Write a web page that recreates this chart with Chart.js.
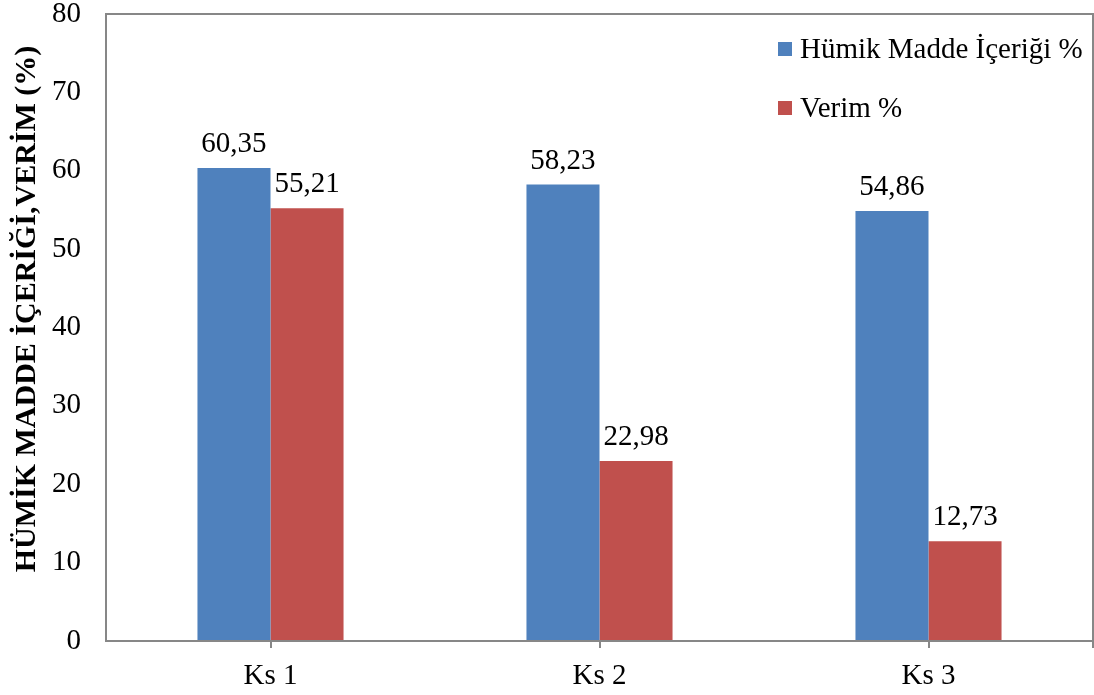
<!DOCTYPE html>
<html>
<head>
<meta charset="utf-8">
<script src="https://cdn.jsdelivr.net/npm/chart.js@4"></script>
<style>
  body { margin: 0; background: #fff; }
  #wrap { width: 1094px; height: 695px; }
</style>
</head>
<body>
<div id="wrap"><canvas id="chart" width="1094" height="695"></canvas></div>
<script>
// data
const categories = ['Ks 1', 'Ks 2', 'Ks 3'];
const humikValues = [60.35, 58.23, 54.86];
const verimValues = [55.21, 22.98, 12.73];
const seriesNames = ['Hümik Madde İçeriği %', 'Verim %'];
const yTicks = [0, 10, 20, 30, 40, 50, 60, 70, 80];
const yTitle = 'HÜMİK MADDE İÇERİĞİ,VERİM (%)';

const FONT = '"Liberation Serif", "Times New Roman", serif';
const axisGray = '#878787';

// draws the value above each bar, with a comma as decimal mark
const barLabels = {
    id: 'barLabels',
    afterDatasetsDraw(chart) {
        const ctx = chart.ctx;
        ctx.save();
        ctx.font = '29px ' + FONT;
        ctx.fillStyle = '#000';
        ctx.textAlign = 'center';
        ctx.textBaseline = 'alphabetic';
        chart.data.datasets.forEach((ds, i) => {
            chart.getDatasetMeta(i).data.forEach((bar, j) => {
                const txt = ds.data[j].toFixed(2).replace('.', ',');
                ctx.fillText(txt, bar.x, bar.y - 16);
            });
        });
        ctx.restore();
    }
};

// box around the plot area, small ticks under the categories, y title
const frame = {
    id: 'frame',
    afterDraw(chart) {
        const a = chart.chartArea;
        const ctx = chart.ctx;
        ctx.save();
        ctx.strokeStyle = axisGray;
        ctx.lineWidth = 2;
        ctx.strokeRect(a.left, a.top, a.right - a.left, a.bottom - a.top);
        const xs = chart.scales.x;
        ctx.beginPath();
        categories.forEach((c, i) => {
            const x = Math.round(xs.getPixelForValue(i));
            ctx.moveTo(x, a.bottom);
            ctx.lineTo(x, a.bottom + 7);
        });
        ctx.moveTo(a.right, a.bottom);
        ctx.lineTo(a.right, a.bottom + 7);
        ctx.stroke();

        ctx.translate(27, 309);
        ctx.rotate(-Math.PI / 2);
        ctx.font = 'bold 30px ' + FONT;
        ctx.fillStyle = '#000';
        ctx.textAlign = 'center';
        ctx.textBaseline = 'middle';
        ctx.fillText(yTitle, 0, 0);
        ctx.restore();
    }
};

// legend inside the plot, top right
const innerLegend = {
    id: 'innerLegend',
    afterDraw(chart) {
        const ctx = chart.ctx;
        const a = chart.chartArea;
        ctx.save();
        ctx.font = '29px ' + FONT;
        ctx.textBaseline = 'middle';
        ctx.textAlign = 'left';
        chart.data.datasets.forEach((ds, i) => {
            const y = 49 + i * 59;
            const x = a.right - 315;
            ctx.fillStyle = ds.backgroundColor;
            ctx.fillRect(x, y - 7, 14, 14);
            ctx.fillStyle = '#000';
            ctx.fillText(ds.label, x + 22, y + 1);
        });
        ctx.restore();
    }
};

new Chart(document.getElementById('chart'), {
    type: 'bar',
    data: {
        labels: categories,
        datasets: [
            { label: seriesNames[0], data: humikValues, backgroundColor: '#4F81BD' },
            { label: seriesNames[1], data: verimValues, backgroundColor: '#C0504D' }
        ]
    },
    options: {
        responsive: false,
        animation: false,
        layout: { padding: { top: 14, right: 1, left: 0, bottom: 0 } },
        datasets: { bar: { categoryPercentage: 0.444, barPercentage: 1.0 } },
        plugins: {
            legend: { display: false },
            tooltip: { enabled: false }
        },
        scales: {
            x: {
                grid: { display: false },
                border: { display: false },
                ticks: { color: '#000', font: { family: FONT, size: 29 }, padding: 10 },
                afterFit(scale) { scale.height = 54; scale.paddingLeft = 0; scale.paddingRight = 0; }
            },
            y: {
                min: 0,
                max: 80,
                afterBuildTicks(scale) { scale.ticks = yTicks.map(v => ({ value: v })); },
                grid: { display: false },
                border: { display: false },
                ticks: { color: '#000', font: { family: FONT, size: 29 }, padding: 17 },
                afterFit(scale) { scale.width = 106; scale.paddingTop = 0; scale.paddingBottom = 0; }
            }
        }
    },
    plugins: [barLabels, frame, innerLegend]
});
</script>
</body>
</html>
